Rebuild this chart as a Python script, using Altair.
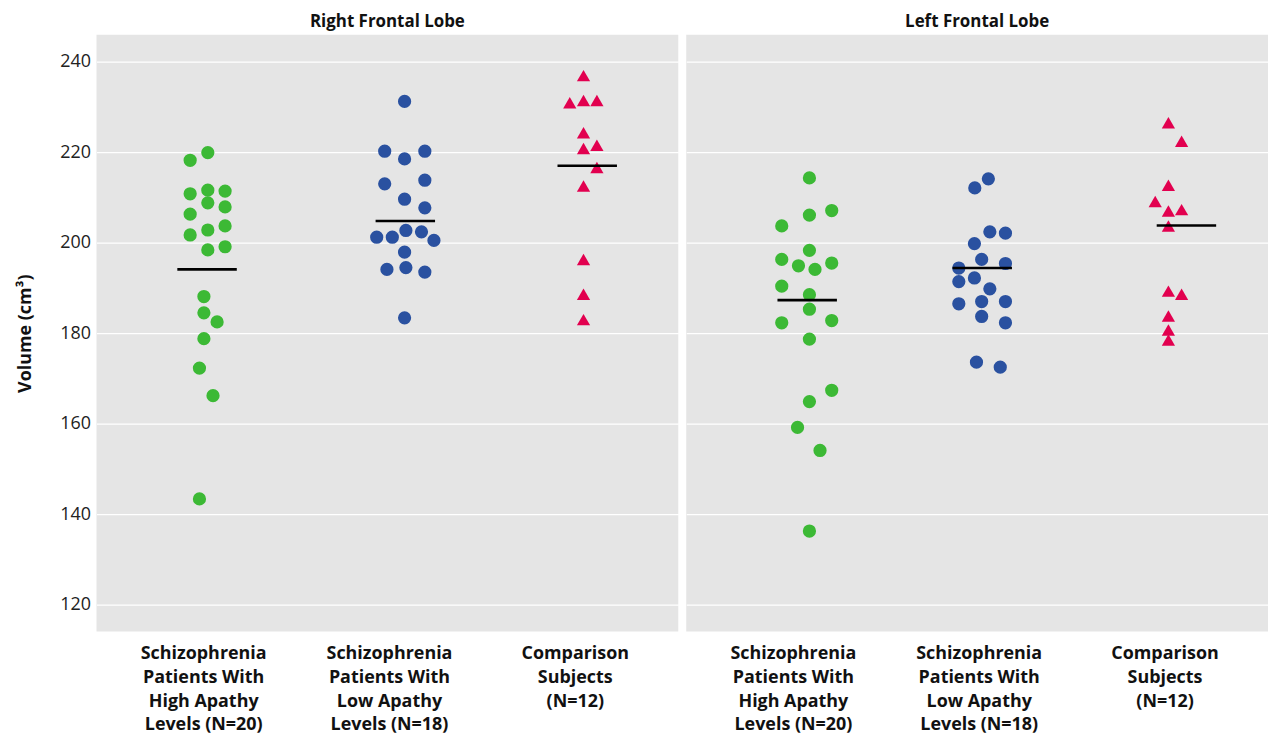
import altair as alt
import pandas as pd
import json

groups = ["High", "Low", "Comparison"]
group_labels = [
    ["Schizophrenia", "Patients With", "High Apathy", "Levels (N=20)"],
    ["Schizophrenia", "Patients With", "Low Apathy", "Levels (N=18)"],
    ["Comparison", "Subjects", "(N=12)"],
]
colors = ["#3cb935", "#2a51a0", "#e2004f"]
shapes = ["circle", "circle", "triangle-up"]
sizes = [177, 177, 196]
y_ticks = [120, 140, 160, 180, 200, 220, 240]

# Right frontal lobe
rf_high_vol = [218.2, 219.9, 210.8, 211.6, 211.4, 208.8, 207.9, 206.3, 201.7, 202.8,
               203.7, 198.4, 199.1, 188.1, 184.5, 182.5, 178.8, 172.3, 166.2, 143.4]
rf_high_pos = [0.930, 1.025, 0.930, 1.025, 1.118, 1.025, 1.118, 0.930, 0.930, 1.025,
               1.118, 1.025, 1.118, 1.004, 1.004, 1.075, 1.004, 0.980, 1.053, 0.980]
rf_low_vol = [231.2, 220.2, 220.2, 218.5, 213.0, 213.8, 209.6, 207.7, 202.7, 202.4,
              201.2, 201.2, 200.5, 197.9, 194.1, 194.5, 193.5, 183.4]
rf_low_pos = [2.084, 1.977, 2.193, 2.084, 1.977, 2.193, 2.084, 2.193, 2.091, 2.175,
              1.934, 2.018, 2.242, 2.084, 1.989, 2.091, 2.193, 2.084]
rf_comp_vol = [236.9, 230.9, 231.4, 231.4, 224.3, 220.8, 221.5, 216.6, 212.5, 196.3, 188.6, 183.0]
rf_comp_pos = [3.047, 2.973, 3.047, 3.119, 3.047, 3.047, 3.119, 3.119, 3.047, 3.047, 3.047, 3.047]
rf_means = [194.1, 204.8, 217.0]
rf_mean_pos = [1.021, 2.088, 3.067]

# Left frontal lobe
lf_high_vol = [214.3, 207.1, 206.1, 203.7, 198.3, 196.3, 195.5, 194.9, 194.1, 190.4,
               188.5, 185.3, 182.3, 182.8, 178.7, 167.4, 164.9, 159.2, 154.1, 136.3]
lf_high_pos = [1.089, 1.209, 1.089, 0.940, 1.089, 0.940, 1.209, 1.030, 1.119, 0.940,
               1.089, 1.089, 0.940, 1.209, 1.089, 1.209, 1.089, 1.025, 1.146, 1.089]
lf_low_vol = [214.1, 212.1, 202.4, 202.1, 199.8, 196.3, 195.4, 194.4, 191.4, 192.2,
              189.8, 186.5, 187.0, 187.0, 183.7, 182.3, 173.6, 172.5]
lf_low_pos = [2.052, 1.979, 2.060, 2.144, 1.977, 2.016, 2.144, 1.893, 1.893, 1.977,
              2.060, 1.893, 2.016, 2.144, 2.016, 2.144, 1.988, 2.116]
lf_comp_vol = [226.5, 222.4, 212.7, 209.1, 207.0, 207.3, 203.7, 189.3, 188.6, 183.8, 180.7, 178.5]
lf_comp_pos = [3.021, 3.092, 3.021, 2.950, 3.021, 3.092, 3.021, 3.021, 3.092, 3.021, 3.021, 3.021]
lf_means = [187.3, 194.4, 203.8]
lf_mean_pos = [1.077, 2.019, 3.118]

MEAN_HALF = 0.16
X_DOMAIN = [0.426, 3.557]
Y_DOMAIN = [114.1, 245.9]
FONT = "Open Sans"


def points_df(vols, poss):
    rows = []
    for g, v, p in zip(groups, vols, poss):
        for vv, pp in zip(v, p):
            rows.append({"group": g, "vol": vv, "pos": pp})
    return pd.DataFrame(rows)


def means_df(means, pos):
    return pd.DataFrame({"group": groups, "mean": means, "pos": pos})


label_expr = " : ".join(
    f"datum.value == {i + 1} ? {json.dumps(lbl)}" for i, lbl in enumerate(group_labels[:-1])
) + f" : {json.dumps(group_labels[-1])}"


def panel(title, vols, poss, means, mpos, show_y):
    xs = alt.Scale(domain=X_DOMAIN, nice=False, zero=False)
    ys = alt.Scale(domain=Y_DOMAIN, nice=False, zero=False)
    x_axis = alt.Axis(values=[1, 2, 3], labelExpr=label_expr, grid=False, ticks=False,
                      domain=False, labelFontSize=18, labelFontWeight="bold", labelFont=FONT,
                      labelColor="#111", labelLineHeight=24, labelPadding=13,
                      labelOverlap=False, labelFlush=False, title=None)
    if show_y:
        y_axis = alt.Axis(values=y_ticks, grid=True, gridColor="white", gridWidth=1.2,
                          ticks=False, domain=False, labelFontSize=18, labelFont=FONT,
                          labelColor="#222", labelPadding=6, title="Volume (cm³)",
                          titleFontSize=18, titleFont=FONT, titleFontWeight="bold",
                          titleColor="#111", titlePadding=25)
    else:
        y_axis = alt.Axis(values=y_ticks, grid=True, gridColor="white", gridWidth=1.2,
                          ticks=False, domain=False, labels=False, title=None)
    pts = alt.Chart(points_df(vols, poss)).mark_point(filled=True, opacity=1, strokeWidth=0).encode(
        x=alt.X("pos:Q", scale=xs, axis=x_axis),
        y=alt.Y("vol:Q", scale=ys, axis=y_axis),
        color=alt.Color("group:N", scale=alt.Scale(domain=groups, range=colors), legend=None),
        shape=alt.Shape("group:N", scale=alt.Scale(domain=groups, range=shapes), legend=None),
        size=alt.Size("group:N", scale=alt.Scale(domain=groups, range=sizes), legend=None),
    )
    mean_rule = alt.Chart(means_df(means, mpos)).transform_calculate(
        x1=f"datum.pos - {MEAN_HALF}", x2=f"datum.pos + {MEAN_HALF}"
    ).mark_rule(color="black", strokeWidth=2.6).encode(
        x=alt.X("x1:Q", scale=xs),
        x2="x2:Q",
        y=alt.Y("mean:Q", scale=ys),
    )
    return alt.layer(pts, mean_rule).properties(
        width=585, height=600,
        title=alt.Title(title, fontSize=17, font=FONT, fontWeight="bold", color="#111",
                        anchor="middle", offset=4),
    )


chart = alt.hconcat(
    panel("Right Frontal Lobe", [rf_high_vol, rf_low_vol, rf_comp_vol],
          [rf_high_pos, rf_low_pos, rf_comp_pos], rf_means, rf_mean_pos, True),
    panel("Left Frontal Lobe", [lf_high_vol, lf_low_vol, lf_comp_vol],
          [lf_high_pos, lf_low_pos, lf_comp_pos], lf_means, lf_mean_pos, False),
    spacing=8,
).properties(
    padding={"left": 9, "top": 3, "right": 0, "bottom": 0},
    background="white",
).configure_view(fill="#e5e5e5", stroke=None)

chart.save("out.html", embed_options={"renderer": "svg", "actions": False})
